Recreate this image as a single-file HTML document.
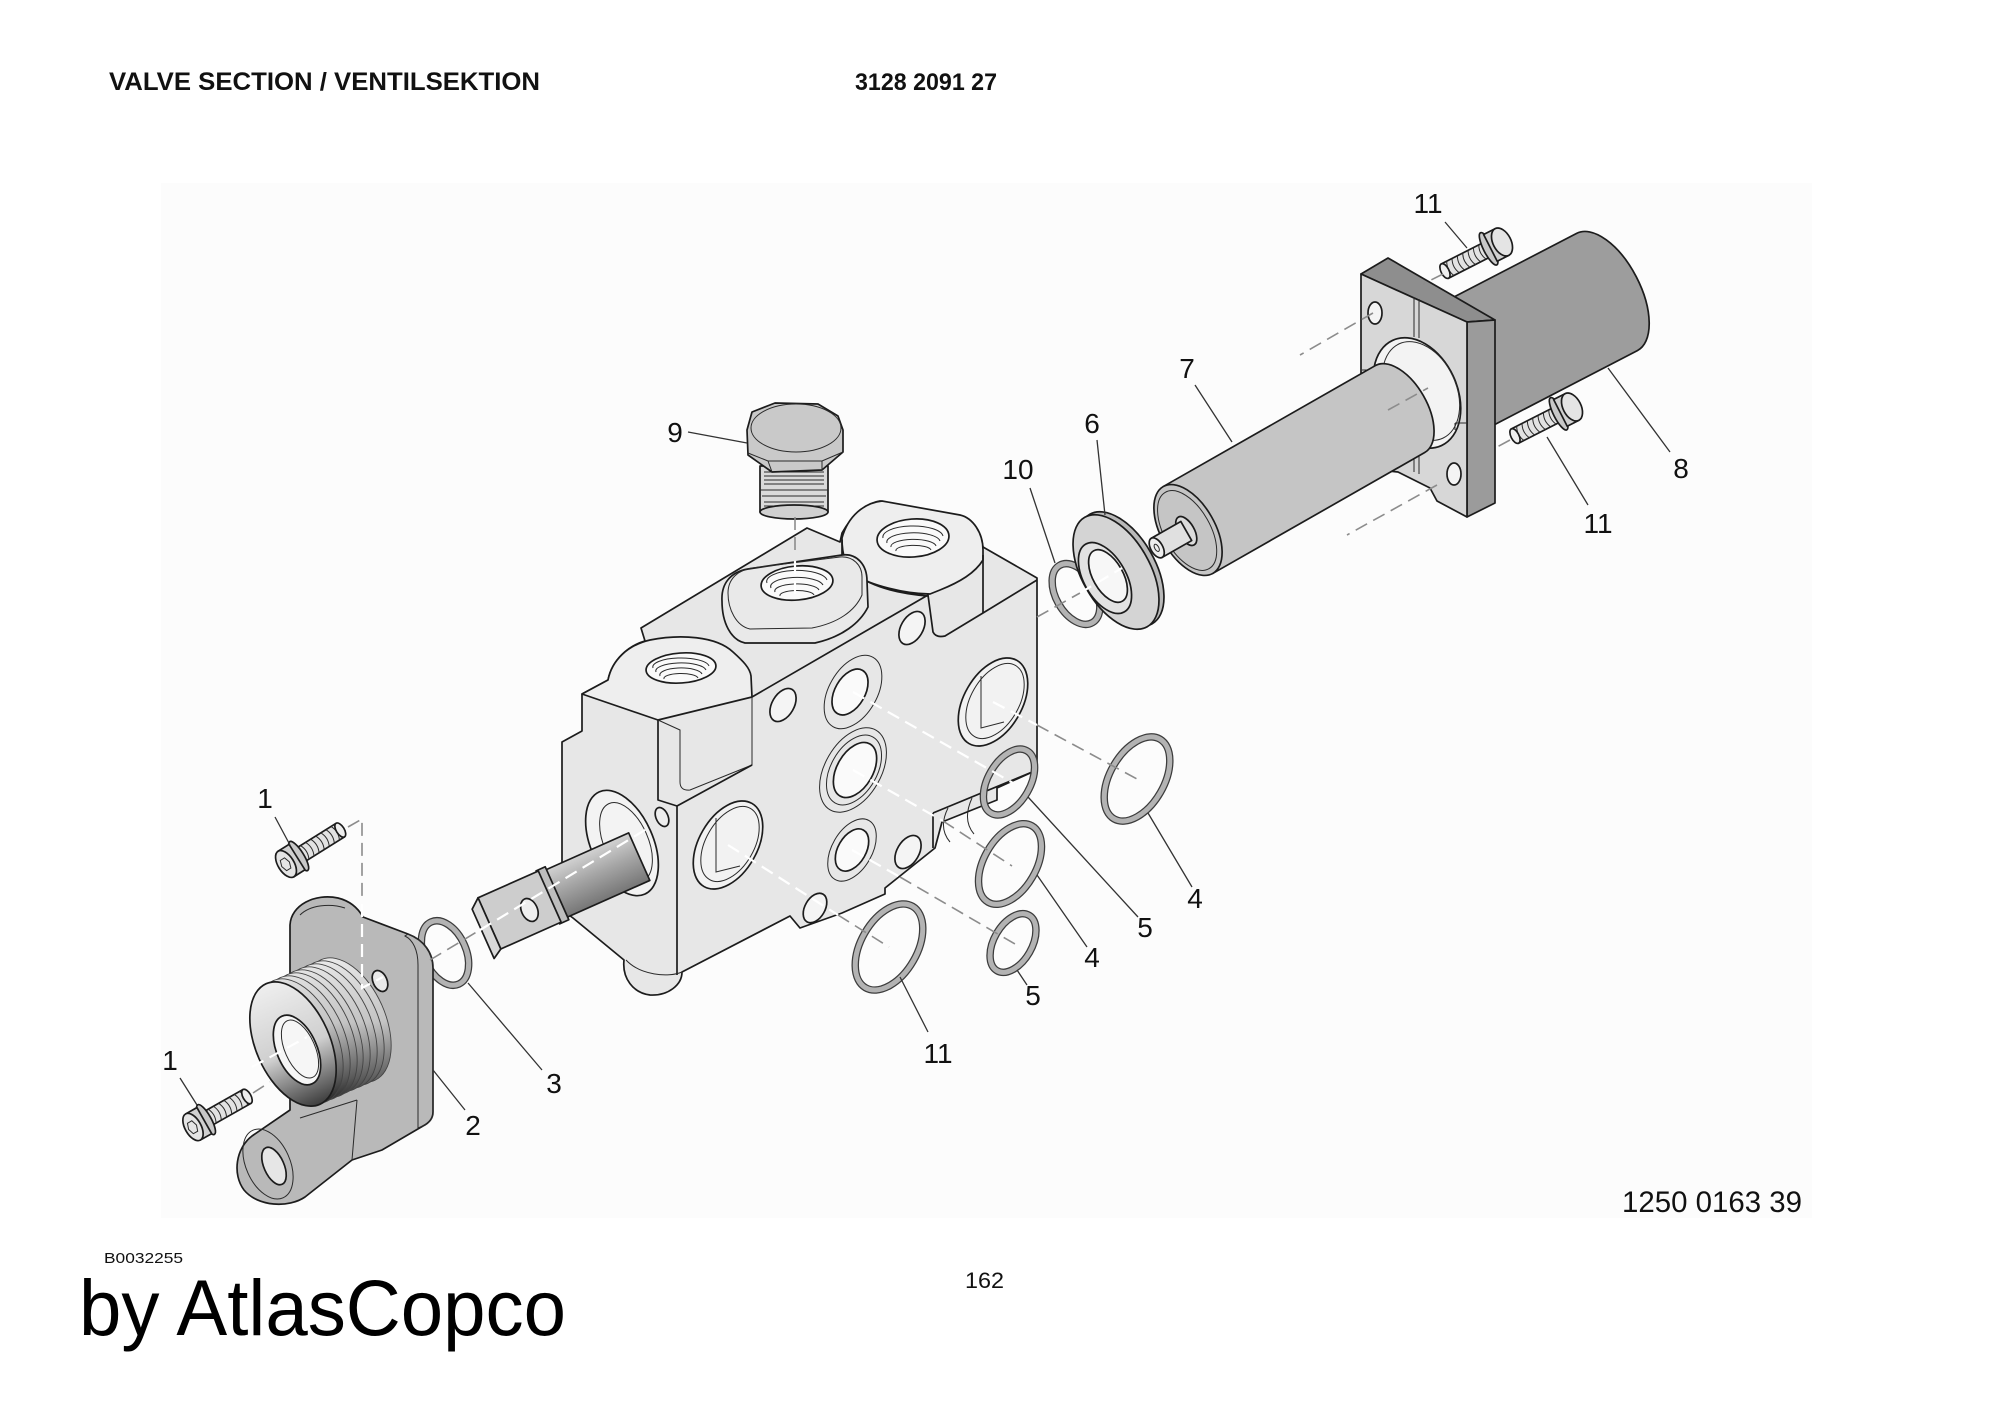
<!DOCTYPE html>
<html><head><meta charset="utf-8"><style>
html,body{margin:0;padding:0;background:#fff;}
svg{display:block}
.o{stroke:#1c1c1c;stroke-width:1.7;stroke-linejoin:round}
.t{stroke:#2a2a2a;stroke-width:1;fill:none}
.ld{stroke:#333;stroke-width:1.3;fill:none}
.dg{stroke:#8c8c8c;stroke-width:1.6;stroke-dasharray:13 7;fill:none}
.dw{stroke:#fff;stroke-width:2.2;stroke-dasharray:13 7;fill:none}
.lb{font-family:"Liberation Sans",Arial,sans-serif;font-size:28px;fill:#111;text-anchor:middle}
.r1{fill:none;stroke:#3c3c3c;stroke-width:7.5}
.r2{fill:none;stroke:#b3b3b3;stroke-width:5}
</style></head><body>
<svg width="2000" height="1414" viewBox="0 0 2000 1414" xmlns="http://www.w3.org/2000/svg">
<defs>
<linearGradient id="rodg" x1="0" y1="0" x2="0" y2="1"><stop offset="0" stop-color="#d2d2d2"/><stop offset="0.45" stop-color="#a6a6a6"/><stop offset="1" stop-color="#767676"/></linearGradient>
<linearGradient id="colg" gradientUnits="userSpaceOnUse" x1="0" y1="960" x2="0" y2="1112"><stop offset="0" stop-color="#e8e8e8"/><stop offset="0.5" stop-color="#c4c4c4"/><stop offset="0.85" stop-color="#5a5a5a"/><stop offset="1" stop-color="#1e1e1e"/></linearGradient>
<linearGradient id="colf" gradientUnits="userSpaceOnUse" x1="0" y1="975" x2="0" y2="1112"><stop offset="0" stop-color="#f0f0f0"/><stop offset="0.55" stop-color="#cfcfcf"/><stop offset="1" stop-color="#383838"/></linearGradient>
</defs>
<rect x="0" y="0" width="2000" height="1414" fill="#fff"/>
<rect x="161" y="183" width="1651" height="1035" fill="#fcfcfc"/>

<!-- ================= VALVE BLOCK ================= -->
<path class="o" fill="#e7e7e7" d="M562,742 L582,731 L582,694 L608,680 C612,660 628,646 645,641 L641,628 L807,528 L840,542 L842,533 C852,515 866,503 880,501 L962,516 C972,520 981,533 983,547 L1037,578 L1037,770 L997,788 L997,800 L942,822 L935,848 L885,888 L885,894 L842,913 L800,928 L790,916 L682,972 C682,985 668,996 650,995 C633,993 622,978 624,960 L573,918 L562,910 Z"/>
<!-- front boss top -->
<path class="o" fill="#eeeeee" d="M582,694 L608,680 C612,660 628,645 650,640 C680,634 716,636 733,652 C743,661 750,668 751,676 L752,697 L658,720 Z"/>
<ellipse cx="681" cy="668" rx="35" ry="15" transform="rotate(-4 681 668)" fill="#fafafa" class="o"/>
<path class="t" d="M653,668 A28,9 0 0 1 709,666 M656,672 A25,8 0 0 1 706,670 M660,676 A21,7 0 0 1 702,674 M664,679 A17,5 0 0 1 698,678"/>
<path class="o" fill="none" d="M658,720 L658,800 L677,806 L677,975"/>
<path class="t" d="M658,720 L680,730 L680,782 Q680,791 690,790 L752,765 L752,697"/>
<path class="o" fill="none" d="M677,806 L752,765 M752,697 L928,595 L933,632 Q936,638 945,636 L983,613 L1037,580"/>
<!-- rear boss -->
<path class="o" fill="#eeeeee" d="M842,538 C848,516 864,503 882,501 L960,515 C973,518 983,533 983,550 L983,560 C975,573 960,582 940,590 L930,594 C905,594 870,585 855,575 C846,568 842,555 842,538 Z"/>
<path class="o" fill="none" d="M983,555 L983,613 M842,540 L842,556 C850,578 880,592 928,596"/>
<ellipse cx="913" cy="538" rx="36" ry="19" transform="rotate(-4 913 538)" fill="#fafafa" class="o"/>
<path class="t" d="M883,538 A30,11 0 0 1 943,536 M887,543 A26,9 0 0 1 940,541 M891,547 A22,7 0 0 1 936,546 M896,551 A17,5 0 0 1 931,550"/>
<!-- middle boss -->
<g transform="translate(0,-5)">
<path class="o" fill="#e9e9e9" d="M722,606 C721,588 731,577 748,574 L842,560 C857,558 867,570 867,586 L868,612 C860,628 842,642 815,648 L745,648 C731,645 722,628 722,606 Z"/>
<path class="t" fill="#efefef" d="M728,598 C728,584 738,575 752,573 L840,562 C853,561 862,570 862,582 L862,600 C855,616 838,628 812,633 L750,634 C736,631 728,614 728,598 Z"/>
<ellipse cx="797" cy="588" rx="36" ry="17" transform="rotate(-5 797 588)" fill="#fafafa" class="o"/>
<path class="t" d="M767,588 A30,11 0 0 1 827,585 M771,593 A26,9 0 0 1 823,590 M775,597 A22,7 0 0 1 819,595 M780,601 A17,5 0 0 1 814,600"/>
</g>
<!-- lower-right step -->
<path class="o" fill="none" d="M933,813 L1037,770 M933,813 L933,848"/>
<path class="t" d="M948,808 Q938,828 950,842 M972,798 Q962,820 974,834 M626,960 C640,975 668,978 682,972"/>
<!-- end-face spool port -->
<ellipse cx="622" cy="843" rx="31" ry="56" transform="rotate(-24 622 843)" fill="#f3f3f3" class="o"/>
<ellipse cx="626" cy="842" rx="22" ry="42" transform="rotate(-24 626 842)" fill="#d4d4d4" class="t"/>
<ellipse cx="662" cy="817" rx="6" ry="10" transform="rotate(-24 662 817)" fill="#eee" class="o"/>
<!-- right-face ports -->
<ellipse cx="728" cy="845" rx="29" ry="48" transform="rotate(30 728 845)" fill="#f2f2f2" class="o"/>
<ellipse cx="730" cy="844" rx="24" ry="41" transform="rotate(30 730 844)" class="t"/>
<path class="t" d="M716,818 L716,872 L740,866"/>
<ellipse cx="783" cy="705" rx="11" ry="18" transform="rotate(30 783 705)" fill="#f4f4f4" class="o"/>
<ellipse cx="853" cy="692" rx="24" ry="40" transform="rotate(30 853 692)" fill="#f4f4f4" class="t"/>
<ellipse cx="850" cy="692" rx="15" ry="25" transform="rotate(30 850 692)" fill="#fafafa" class="o"/>
<ellipse cx="912" cy="628" rx="11" ry="18" transform="rotate(30 912 628)" fill="#f4f4f4" class="o"/>
<ellipse cx="993" cy="702" rx="29" ry="48" transform="rotate(30 993 702)" fill="#f2f2f2" class="o"/>
<ellipse cx="995" cy="701" rx="24" ry="41" transform="rotate(30 995 701)" class="t"/>
<path class="t" d="M981,676 L981,728 L1004,722"/>
<ellipse cx="853" cy="770" rx="28" ry="46" transform="rotate(30 853 770)" fill="#f4f4f4" class="t"/>
<ellipse cx="854" cy="770" rx="23" ry="38" transform="rotate(30 854 770)" class="t"/>
<ellipse cx="855" cy="770" rx="18" ry="30" transform="rotate(30 855 770)" fill="#fafafa" class="o"/>
<ellipse cx="852" cy="850" rx="20" ry="34" transform="rotate(30 852 850)" fill="#f4f4f4" class="t"/>
<ellipse cx="852" cy="850" rx="14" ry="23" transform="rotate(30 852 850)" fill="#fafafa" class="o"/>
<ellipse cx="908" cy="852" rx="11" ry="18" transform="rotate(30 908 852)" fill="#f4f4f4" class="o"/>
<ellipse cx="815" cy="908" rx="10" ry="16" transform="rotate(30 815 908)" fill="#f4f4f4" class="o"/>

<!-- ================= SPOOL ================= -->
<g transform="translate(515,912) rotate(-24)">
<rect x="44" y="-26" width="92" height="52" fill="url(#rodg)" class="o"/>
<rect x="36" y="-29" width="10" height="58" fill="#bdbdbd" class="o"/>
<rect x="-28" y="-28" width="66" height="56" fill="#cdcdcd" class="o"/>
<polygon points="-28,-28 -28,28 -38,34 -38,-20" fill="#dadada" class="o"/>
<ellipse cx="14" cy="4" rx="8" ry="12" fill="#efefef" class="o"/>
</g>

<!-- ring 3 -->
<ellipse cx="445" cy="953" rx="21" ry="34" transform="rotate(-24 445 953)" class="r1"/>
<ellipse cx="445" cy="953" rx="21" ry="34" transform="rotate(-24 445 953)" class="r2"/>

<!-- ================= FLANGE 2 ================= -->
<path class="o" fill="#b9b9b9" d="M290,925 C291,905 315,893 338,898 C350,901 358,908 363,917 L408,934 C424,940 433,953 433,968 L433,1112 C433,1119 429,1123 423,1126 L382,1150 L352,1160 L305,1197 C289,1208 258,1207 244,1190 C232,1174 236,1148 252,1136 L290,1110 Z"/>
<path class="t" fill="#a2a2a2" d="M408,934 C424,940 433,953 433,968 L433,1112 C433,1119 429,1123 423,1126 L418,1128 L418,965 C418,950 413,940 405,936 Z"/>
<path class="t" d="M300,915 C310,905 330,903 345,908 M300,1118 L357,1100 M357,1100 L352,1160"/>
<ellipse cx="268" cy="1164" rx="22" ry="37" transform="rotate(-24 268 1164)" fill="#c2c2c2" class="t"/>
<ellipse cx="274" cy="1166" rx="10" ry="20" transform="rotate(-24 274 1166)" fill="#e6e6e6" class="o"/>
<ellipse cx="380" cy="981" rx="7" ry="11" transform="rotate(-24 380 981)" fill="#e9e9e9" class="o"/>
<!-- threaded collar -->
<g stroke="#444" stroke-width="0.9" fill="url(#colg)">
<ellipse cx="348" cy="1020" rx="37" ry="66" transform="rotate(-24 348 1020)"/>
<ellipse cx="341" cy="1023" rx="37" ry="66" transform="rotate(-24 341 1023)"/>
<ellipse cx="334" cy="1026" rx="37" ry="66" transform="rotate(-24 334 1026)"/>
<ellipse cx="327" cy="1029" rx="37" ry="66" transform="rotate(-24 327 1029)"/>
<ellipse cx="320" cy="1032" rx="37" ry="66" transform="rotate(-24 320 1032)"/>
<ellipse cx="314" cy="1035" rx="37" ry="66" transform="rotate(-24 314 1035)"/>
<ellipse cx="307" cy="1038" rx="37" ry="66" transform="rotate(-24 307 1038)"/>
<ellipse cx="300" cy="1041" rx="37" ry="66" transform="rotate(-24 300 1041)"/>
</g>
<ellipse cx="293" cy="1044" rx="37" ry="66" transform="rotate(-24 293 1044)" fill="url(#colf)" class="o"/>
<ellipse cx="297" cy="1050" rx="20" ry="37" transform="rotate(-24 297 1050)" fill="#f6f6f6" class="o"/>
<ellipse cx="300" cy="1049" rx="15" ry="31" transform="rotate(-24 300 1049)" class="t"/>

<!-- ================= BOLTS 1 ================= -->
<g transform="translate(286,864) rotate(-32)">
<rect x="14" y="-8" width="50" height="16" fill="#e2e2e2" class="o"/>
<path class="t" d="M22,-8 q4,8 0,16 M28,-8 q4,8 0,16 M34,-8 q4,8 0,16 M40,-8 q4,8 0,16 M46,-8 q4,8 0,16 M52,-8 q4,8 0,16 M58,-8 q4,8 0,16"/>
<ellipse cx="64" cy="0" rx="4" ry="8" fill="#eee" class="o"/>
<ellipse cx="15" cy="0" rx="5" ry="17" fill="#c8c8c8" class="o"/>
<path d="M0,-15 L13,-15 L13,15 L0,15 Z" fill="#d0d0d0" class="o"/>
<ellipse cx="0" cy="0" rx="8" ry="15" fill="#e4e4e4" class="o"/>
<polygon points="-3,-6 2,-6 4,0 2,6 -3,6 -5,0" fill="#c0c0c0" class="t"/>
</g>
<g transform="translate(193,1127) rotate(-29.5)">
<rect x="14" y="-8" width="48" height="16" fill="#e2e2e2" class="o"/>
<path class="t" d="M22,-8 q4,8 0,16 M28,-8 q4,8 0,16 M34,-8 q4,8 0,16 M40,-8 q4,8 0,16 M46,-8 q4,8 0,16 M52,-8 q4,8 0,16 M58,-8 q4,8 0,16"/>
<ellipse cx="62" cy="0" rx="4" ry="8" fill="#eee" class="o"/>
<ellipse cx="15" cy="0" rx="5" ry="17" fill="#c8c8c8" class="o"/>
<path d="M0,-15 L13,-15 L13,15 L0,15 Z" fill="#d0d0d0" class="o"/>
<ellipse cx="0" cy="0" rx="8" ry="15" fill="#e4e4e4" class="o"/>
<polygon points="-3,-6 2,-6 4,0 2,6 -3,6 -5,0" fill="#c0c0c0" class="t"/>
</g>

<!-- ================= RINGS 4,5,11 ================= -->
<g>
<ellipse cx="1009" cy="782" rx="21" ry="36" transform="rotate(30 1009 782)" class="r1"/>
<ellipse cx="1009" cy="782" rx="21" ry="36" transform="rotate(30 1009 782)" class="r2"/>
<ellipse cx="1137" cy="779" rx="27" ry="46" transform="rotate(30 1137 779)" class="r1"/>
<ellipse cx="1137" cy="779" rx="27" ry="46" transform="rotate(30 1137 779)" class="r2"/>
<ellipse cx="1010" cy="864" rx="26" ry="44" transform="rotate(30 1010 864)" class="r1"/>
<ellipse cx="1010" cy="864" rx="26" ry="44" transform="rotate(30 1010 864)" class="r2"/>
<ellipse cx="1013" cy="943" rx="19" ry="32" transform="rotate(30 1013 943)" class="r1"/>
<ellipse cx="1013" cy="943" rx="19" ry="32" transform="rotate(30 1013 943)" class="r2"/>
<ellipse cx="889" cy="947" rx="28" ry="47" transform="rotate(30 889 947)" class="r1"/>
<ellipse cx="889" cy="947" rx="28" ry="47" transform="rotate(30 889 947)" class="r2"/>
</g>

<!-- ================= PLUG 9 ================= -->
<rect x="760" y="466" width="68" height="46" fill="#dadada" class="o"/>
<path class="t" d="M764,472 L824,472 M764,476 L824,476 M764,480 L824,480 M764,484 L824,484 M760,490 L828,490 M762,496 L826,496 M764,502 L824,502 M764,506 L824,506"/>
<ellipse cx="794" cy="512" rx="34" ry="7" fill="#d0d0d0" class="o"/>
<polygon points="747,430 752,412 775,403 818,404 838,416 843,430 843,452 822,470 772,472 748,455" fill="#c9c9c9" class="o"/>
<ellipse cx="796" cy="428" rx="45" ry="24" fill="#d3d3d3" class="t"/>
<path class="t" d="M748,453 L768,461 L822,461 L843,452 M768,461 L772,472 M822,461 L822,470"/>

<!-- ================= RING 10 & PART 6 ================= -->
<ellipse cx="1076" cy="594" rx="20" ry="33" transform="rotate(-29.7 1076 594)" class="r1"/>
<ellipse cx="1076" cy="594" rx="20" ry="33" transform="rotate(-29.7 1076 594)" class="r2"/>
<ellipse cx="1121" cy="569" rx="34" ry="63" transform="rotate(-29.7 1121 569)" fill="#b9b9b9" class="o"/>
<ellipse cx="1116" cy="572" rx="34" ry="63" transform="rotate(-29.7 1116 572)" fill="#d4d4d4" class="o"/>
<ellipse cx="1105" cy="578" rx="21" ry="39" transform="rotate(-29.7 1105 578)" fill="#e2e2e2" class="o"/>
<ellipse cx="1108" cy="576" rx="15" ry="29" transform="rotate(-29.7 1108 576)" fill="#f7f7f7" class="o"/>

<!-- ================= CYLINDER 8 ================= -->
<g transform="translate(1607,292) rotate(-27.4)">
<path d="M-170,-66 L0,-66 A33,66 0 0 1 0,66 L-170,66 Z" fill="#9d9d9d" class="o"/>
</g>
<!-- FLANGE 8 -->
<polygon points="1361,274 1388,258 1495,320 1467,322" fill="#8e8e8e" class="o"/>
<polygon points="1467,322 1495,320 1495,503 1467,517" fill="#9b9b9b" class="o"/>
<polygon points="1361,274 1467,322 1467,517 1437,501 1430,488 1398,472 1361,468" fill="#d7d7d7" class="o"/>
<ellipse cx="1417" cy="393" rx="40" ry="58" transform="rotate(-25 1417 393)" fill="#f3f3f3" class="o"/>
<ellipse cx="1421" cy="391" rx="35" ry="52" transform="rotate(-25 1421 391)" class="t"/>
<path class="t" d="M1414,297 L1414,337 M1419,299 L1419,338 M1414,448 L1414,472 M1419,447 L1419,474 M1362,370 L1378,370 L1378,377 M1455,423 L1467,423 M1455,423 L1455,430"/>
<ellipse cx="1375" cy="313" rx="7" ry="11" fill="#f4f4f4" class="o"/>
<ellipse cx="1454" cy="474" rx="7" ry="11" fill="#f4f4f4" class="o"/>

<!-- ================= CYLINDER 7 ================= -->
<g transform="translate(1188,530) rotate(-29.7)">
<path d="M0,-50 L244,-50 A27,50 0 0 1 244,50 L0,50 Z" fill="#c5c5c5" class="o"/>
<ellipse cx="0" cy="0" rx="27" ry="50" fill="#c5c5c5" class="o"/>
<ellipse cx="-1" cy="0" rx="23" ry="44" fill="#f0f0f0" class="t"/>
<ellipse cx="-2" cy="0" rx="8" ry="16" fill="#dcdcdc" class="o"/>
<rect x="-36" y="-11" width="34" height="22" fill="#e0e0e0" class="o"/>
<ellipse cx="-36" cy="0" rx="6" ry="11" fill="#eeeeee" class="o"/>
<ellipse cx="-36" cy="0" rx="2" ry="4" fill="#fff" class="t"/>
</g>

<!-- ================= BOLTS 11 ================= -->
<g transform="translate(1502,242) rotate(153)">
<rect x="14" y="-8" width="50" height="16" fill="#e2e2e2" class="o"/>
<path class="t" d="M22,-8 q4,8 0,16 M28,-8 q4,8 0,16 M34,-8 q4,8 0,16 M40,-8 q4,8 0,16 M46,-8 q4,8 0,16 M52,-8 q4,8 0,16 M58,-8 q4,8 0,16"/>
<ellipse cx="64" cy="0" rx="4" ry="8" fill="#eee" class="o"/>
<ellipse cx="15" cy="0" rx="5" ry="18" fill="#c8c8c8" class="o"/>
<path d="M0,-15 L13,-15 L13,15 L0,15 Z" fill="#d0d0d0" class="o"/>
<ellipse cx="0" cy="0" rx="9" ry="15" fill="#e4e4e4" class="o"/>
</g>
<g transform="translate(1572,407) rotate(153)">
<rect x="14" y="-8" width="50" height="16" fill="#e2e2e2" class="o"/>
<path class="t" d="M22,-8 q4,8 0,16 M28,-8 q4,8 0,16 M34,-8 q4,8 0,16 M40,-8 q4,8 0,16 M46,-8 q4,8 0,16 M52,-8 q4,8 0,16 M58,-8 q4,8 0,16"/>
<ellipse cx="64" cy="0" rx="4" ry="8" fill="#eee" class="o"/>
<ellipse cx="15" cy="0" rx="5" ry="18" fill="#c8c8c8" class="o"/>
<path d="M0,-15 L13,-15 L13,15 L0,15 Z" fill="#d0d0d0" class="o"/>
<ellipse cx="0" cy="0" rx="9" ry="15" fill="#e4e4e4" class="o"/>
</g>

<!-- ================= DASHED LINES ================= -->
<path class="dg" d="M430,960 L480,930"/>
<path class="dw" d="M480,930 L650,827"/>
<path class="dw" d="M252,1067 L307,1037"/>
<path class="dg" d="M348,827 L362,819 L362,900"/>
<path class="dw" d="M362,904 L362,988 L383,977"/>
<path class="dg" d="M253,1093 L270,1082"/>
<path class="dg" d="M795,517 L795,557"/>
<path class="dw" d="M795,561 L795,595"/>
<path class="dw" d="M853,692 L1013,783"/>
<path class="dw" d="M853,770 L943,821"/>
<path class="dg" d="M943,821 L1012,866"/>
<path class="dw" d="M852,850 L900,877"/>
<path class="dg" d="M900,877 L1015,944"/>
<path class="dw" d="M728,845 L838,915"/>
<path class="dg" d="M838,915 L889,947"/>
<path class="dw" d="M993,702 L1037,725"/>
<path class="dg" d="M1037,725 L1137,779"/>
<path class="dg" d="M1037,617 L1080,593"/>
<path class="dw" d="M1080,593 L1122,568"/>
<path class="dg" d="M1388,410 L1428,388"/>
<path class="dg" d="M1443,274 L1423,284"/>
<path class="dg" d="M1373,313 L1300,355"/>
<path class="dg" d="M1510,440 L1497,447"/>
<path class="dg" d="M1437,485 L1347,535"/>

<!-- ================= LEADERS ================= -->
<path class="ld" d="M275,817 L290,845 M180,1078 L197,1105 M433,1070 L465,1110 M468,983 L542,1070 M688,432 L747,443 M1030,488 L1055,563 M1097,440 L1105,515 M1195,385 L1232,442 M1445,222 L1467,248 M1670,452 L1608,368 M1588,505 L1547,437 M1148,813 L1192,887 M1028,797 L1138,917 M1037,875 L1087,947 M1017,970 L1027,985 M900,977 L928,1032"/>

<!-- ================= LABELS ================= -->
<text class="lb" x="265" y="808">1</text>
<text class="lb" x="170" y="1070">1</text>
<text class="lb" x="473" y="1135">2</text>
<text class="lb" x="554" y="1093">3</text>
<text class="lb" x="675" y="442">9</text>
<text class="lb" x="1018" y="479">10</text>
<text class="lb" x="1092" y="433">6</text>
<text class="lb" x="1187" y="378">7</text>
<text class="lb" x="1428" y="213">11</text>
<text class="lb" x="1681" y="478">8</text>
<text class="lb" x="1598" y="533">11</text>
<text class="lb" x="1195" y="908">4</text>
<text class="lb" x="1145" y="937">5</text>
<text class="lb" x="1092" y="967">4</text>
<text class="lb" x="1033" y="1005">5</text>
<text class="lb" x="938" y="1063">11</text>

<!-- ================= HEADER / FOOTER TEXT ================= -->
<text x="109" y="90" font-family="Liberation Sans, Arial, sans-serif" font-weight="bold" font-size="25" fill="#111" textLength="431" lengthAdjust="spacingAndGlyphs">VALVE SECTION / VENTILSEKTION</text>
<text x="855" y="90" font-family="Liberation Sans, Arial, sans-serif" font-weight="bold" font-size="24" fill="#111" textLength="142" lengthAdjust="spacingAndGlyphs">3128 2091 27</text>
<text x="1622" y="1212" font-family="Liberation Sans, Arial, sans-serif" font-size="30" fill="#111" textLength="180" lengthAdjust="spacingAndGlyphs">1250 0163 39</text>
<text x="104" y="1263" font-family="Liberation Sans, Arial, sans-serif" font-size="15" fill="#111" textLength="79" lengthAdjust="spacingAndGlyphs">B0032255</text>
<text x="965" y="1288" font-family="Liberation Sans, Arial, sans-serif" font-size="22" fill="#111" textLength="39" lengthAdjust="spacingAndGlyphs">162</text>
<text x="79" y="1335" font-family="Liberation Sans, Arial, sans-serif" font-size="79" fill="#000" textLength="487" lengthAdjust="spacingAndGlyphs">by AtlasCopco</text>
</svg>
</body></html>
